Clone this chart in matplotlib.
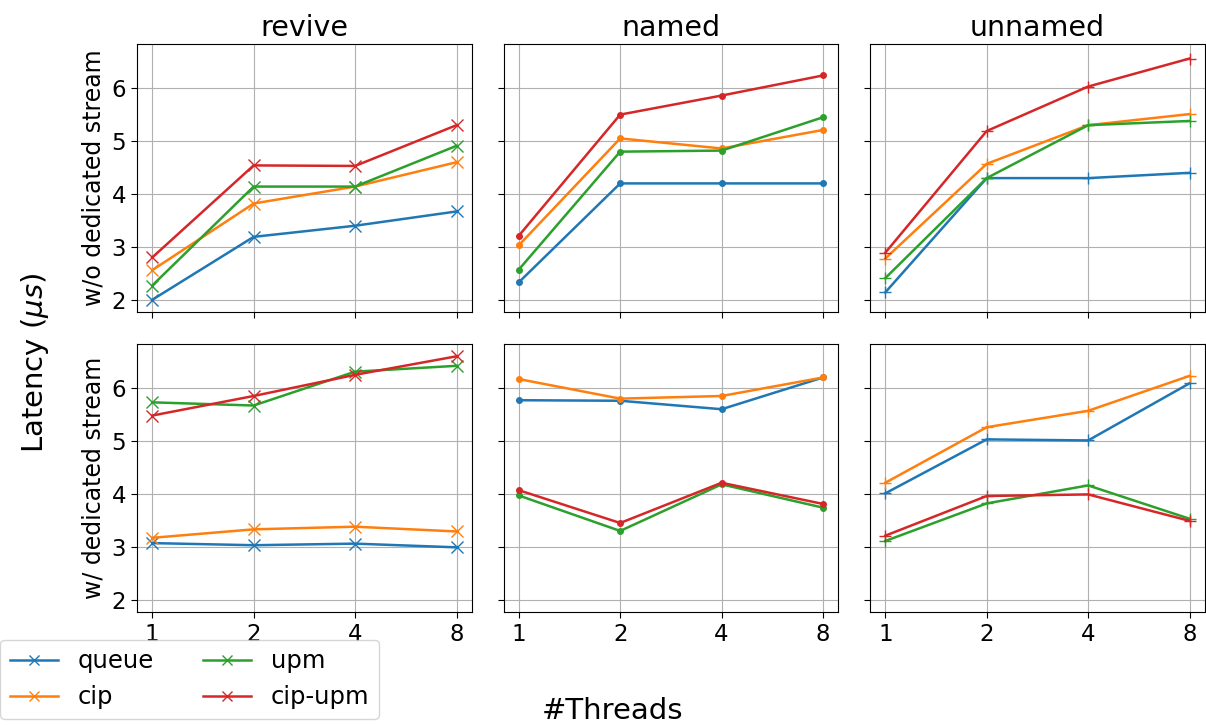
import numpy as np
import matplotlib
matplotlib.use("Agg")
from matplotlib import pyplot as plt

threads = ["1", "2", "4", "8"]
modes = ["revive", "named", "unnamed"]
rows = ["w/o dedicated stream", "w/ dedicated stream"]
impls = ["queue", "cip", "upm", "cip-upm"]

# latency in microseconds, values for 1,2,4,8 threads
# without dedicated stream
revive_wo = {
    "queue":   [2.00, 3.19, 3.40, 3.67],
    "cip":     [2.56, 3.82, 4.14, 4.60],
    "upm":     [2.27, 4.14, 4.14, 4.91],
    "cip-upm": [2.80, 4.54, 4.53, 5.30],
}
named_wo = {
    "queue":   [2.33, 4.20, 4.20, 4.20],
    "cip":     [3.03, 5.05, 4.86, 5.21],
    "upm":     [2.57, 4.80, 4.82, 5.45],
    "cip-upm": [3.21, 5.50, 5.86, 6.24],
}
unnamed_wo = {
    "queue":   [2.14, 4.30, 4.30, 4.40],
    "cip":     [2.78, 4.57, 5.30, 5.51],
    "upm":     [2.41, 4.30, 5.30, 5.38],
    "cip-upm": [2.89, 5.19, 6.03, 6.56],
}
# with dedicated stream
revive_w = {
    "queue":   [3.07, 3.03, 3.06, 2.99],
    "cip":     [3.17, 3.33, 3.38, 3.29],
    "upm":     [5.73, 5.67, 6.31, 6.42],
    "cip-upm": [5.48, 5.85, 6.25, 6.60],
}
named_w = {
    "queue":   [5.77, 5.76, 5.60, 6.20],
    "cip":     [6.17, 5.80, 5.85, 6.20],
    "upm":     [3.97, 3.30, 4.18, 3.74],
    "cip-upm": [4.07, 3.45, 4.21, 3.81],
}
unnamed_w = {
    "queue":   [4.01, 5.03, 5.01, 6.09],
    "cip":     [4.21, 5.26, 5.57, 6.23],
    "upm":     [3.11, 3.82, 4.16, 3.53],
    "cip-upm": [3.21, 3.96, 3.99, 3.49],
}

data = [[revive_wo, named_wo, unnamed_wo], [revive_w, named_w, unnamed_w]]
markers = {"revive": "x", "named": ".", "unnamed": "+"}
msize = {"revive": 8, "named": 8, "unnamed": 9}

plt.rcParams["font.size"] = 15

fig, axs = plt.subplots(2, 3, figsize=(12.06, 7.25), dpi=100, sharex=True, sharey=True)
fig.subplots_adjust(left=0.1136, right=0.999, top=0.939, bottom=0.156, wspace=0.095, hspace=0.12)

for r in range(2):
    for c in range(3):
        ax = axs[r][c]
        for name in impls:
            ax.plot(threads, data[r][c][name], marker=markers[modes[c]],
                    markersize=msize[modes[c]], linewidth=1.8, label=name)
        ax.grid(True)
        ax.tick_params(labelsize=16.5, length=4.5)
        if r == 0:
            ax.set_title(modes[c], fontsize=20.5)
        if c == 0:
            ax.set_ylabel(rows[r], fontsize=17)

axs[0][0].set_yticks([2, 3, 4, 5, 6])

handles, labels = axs[0][0].get_legend_handles_labels()
fig.legend(handles, labels, loc="lower left", bbox_to_anchor=(0.0, 0.008), ncol=2,
           fontsize=17.5, markerscale=0.9, borderaxespad=0)
fig.supxlabel("#Threads", fontsize=21, x=0.508, y=0.0)
fig.supylabel("Latency ($\\mu s$)", fontsize=21, x=0.016)

plt.savefig("out.png")
